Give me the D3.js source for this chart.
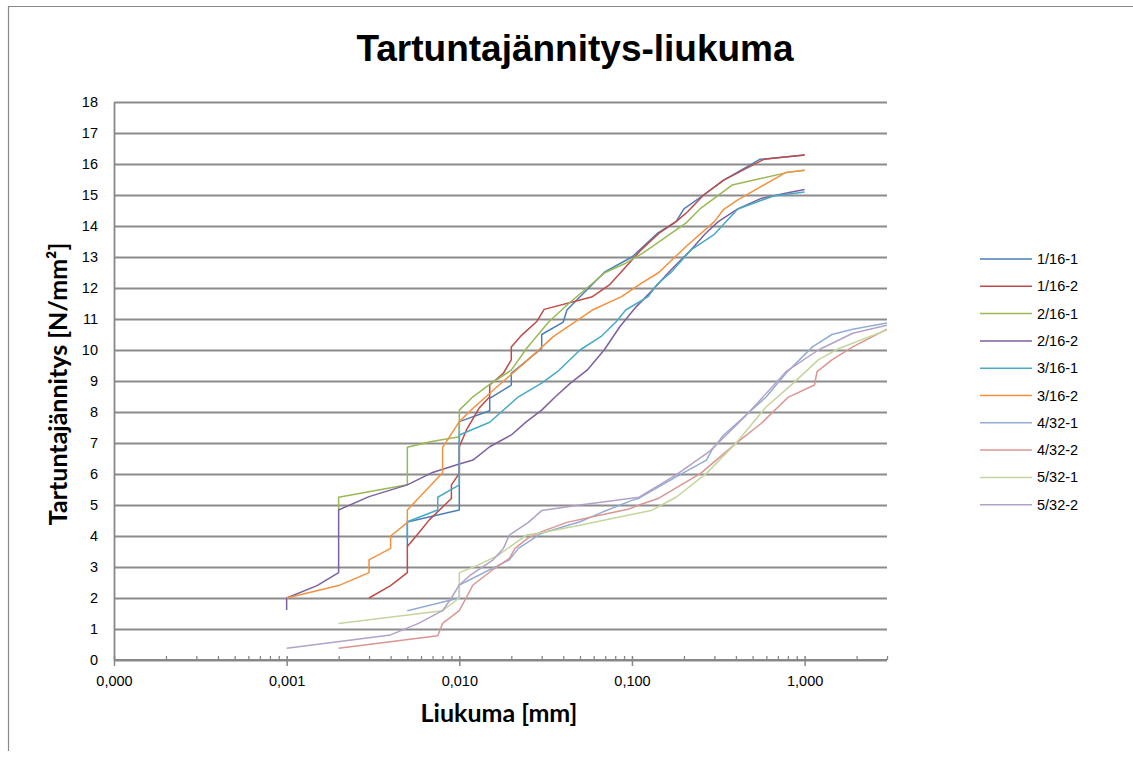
<!DOCTYPE html>
<html lang="fi">
<head>
    <meta charset="UTF-8">
    <title>Tartuntajännitys-liukuma</title>
    <script src="https://d3js.org/d3.v7.min.js"></script>
    <style>
        body { margin: 0; background: #fff; }
        .tick-label { font-family: "Liberation Sans", Arial, sans-serif; font-size: 14.5px; fill: #000; }
        .axis-title { font-family: Lato, "Open Sans", sans-serif; font-weight: bold; font-size: 25px; fill: #000; }
        .chart-title { font-family: "Liberation Sans", Arial, sans-serif; font-weight: bold; font-size: 37px; fill: #000; }
        .legend-text { font-family: "Liberation Sans", Arial, sans-serif; font-size: 14.5px; fill: #000; }
    </style>
</head>
<body>
<script>
    var w = 1133;
    var h = 758;

    // series names and colours
    var seriesNames = ["1/16-1", "1/16-2", "2/16-1", "2/16-2", "3/16-1", "3/16-2", "4/32-1", "4/32-2", "5/32-1", "5/32-2"];
    var seriesColors = ["#4A7EBB", "#BE4B48", "#98B954", "#7D60A0", "#46AAC5", "#F3913F", "#93ACD5", "#D99694", "#C3D69B", "#B3A2C7"];

    // [liukuma mm, tartuntajännitys N/mm2]
    var s1_16_1 = [[0.005,3.66],[0.005,4.45],[0.01,4.84],[0.01,7.69],[0.015,8.04],[0.015,8.44],[0.02,8.87],[0.02,9.25],[0.03,10.05],[0.03,10.5],[0.04,10.9],[0.042,11.29],[0.05,11.72],[0.07,12.53],[0.1,13.0],[0.14,13.76],[0.18,14.14],[0.2,14.55],[0.26,15.0],[0.34,15.48],[0.55,16.15],[1.0,16.29]];
    var s1_16_2 = [[0.003,2.0],[0.004,2.4],[0.005,2.82],[0.005,3.66],[0.0058,4.09],[0.0067,4.52],[0.009,5.21],[0.009,5.65],[0.01,6.02],[0.01,6.88],[0.011,7.42],[0.013,8.12],[0.015,8.49],[0.015,8.87],[0.018,9.25],[0.02,9.68],[0.02,10.1],[0.023,10.48],[0.028,10.91],[0.031,11.31],[0.059,11.72],[0.074,12.1],[0.085,12.47],[0.113,13.23],[0.143,13.76],[0.18,14.14],[0.21,14.46],[0.26,15.0],[0.34,15.48],[0.58,16.15],[1.0,16.29]];
    var s2_16_1 = [[0.002,4.84],[0.002,5.25],[0.005,5.65],[0.005,6.86],[0.0068,7.04],[0.01,7.2],[0.01,8.06],[0.012,8.49],[0.015,8.89],[0.02,9.35],[0.0245,10.05],[0.033,10.91],[0.043,11.5],[0.07,12.5],[0.092,12.8],[0.115,13.12],[0.205,14.09],[0.25,14.57],[0.38,15.32],[0.8,15.73],[1.0,15.8]];
    var s2_16_2 = [[0.001,1.61],[0.001,2.0],[0.0015,2.4],[0.002,2.82],[0.002,4.84],[0.003,5.27],[0.005,5.65],[0.007,6.05],[0.01,6.32],[0.012,6.45],[0.015,6.88],[0.02,7.26],[0.0245,7.69],[0.03,8.06],[0.036,8.49],[0.044,8.93],[0.055,9.35],[0.069,10.0],[0.085,10.75],[0.106,11.4],[0.132,11.94],[0.168,12.58],[0.22,13.23],[0.265,13.74],[0.316,14.14],[0.41,14.55],[0.56,14.89],[0.8,15.07],[1.0,15.18]];
    var s3_16_1 = [[0.005,3.9],[0.005,4.46],[0.0075,4.84],[0.0075,5.25],[0.01,5.65],[0.01,7.26],[0.015,7.67],[0.022,8.49],[0.03,8.93],[0.037,9.3],[0.05,10.0],[0.066,10.43],[0.081,10.91],[0.092,11.29],[0.124,11.72],[0.14,12.12],[0.17,12.53],[0.22,13.23],[0.3,13.73],[0.35,14.14],[0.41,14.55],[0.66,14.97],[1.0,15.1]];
    var s3_16_2 = [[0.001,2.0],[0.002,2.4],[0.003,2.82],[0.003,3.23],[0.004,3.6],[0.004,4.0],[0.005,4.43],[0.005,4.84],[0.008,6.04],[0.008,6.86],[0.01,7.69],[0.012,8.12],[0.017,8.87],[0.025,9.68],[0.035,10.43],[0.059,11.29],[0.087,11.72],[0.113,12.15],[0.143,12.5],[0.205,13.33],[0.3,14.14],[0.34,14.54],[0.41,14.84],[0.78,15.73],[1.0,15.8]];
    var s4_32_1 = [[0.005,1.59],[0.01,2.0],[0.01,2.42],[0.0195,3.23],[0.022,3.6],[0.03,4.09],[0.05,4.46],[0.068,4.78],[0.1,5.15],[0.11,5.22],[0.18,5.91],[0.27,6.45],[0.29,6.77],[0.34,7.26],[0.6,8.49],[0.78,9.25],[1.11,10.1],[1.44,10.5],[1.9,10.67],[3.0,10.87]];
    var s4_32_2 = [[0.002,0.38],[0.0075,0.78],[0.008,1.18],[0.01,1.59],[0.012,2.42],[0.0157,2.92],[0.0195,3.28],[0.021,3.6],[0.025,3.93],[0.03,4.14],[0.042,4.44],[0.066,4.68],[0.095,4.86],[0.11,5.0],[0.143,5.22],[0.25,6.02],[0.4,6.99],[0.56,7.63],[0.8,8.47],[1.14,8.87],[1.18,9.3],[1.44,9.68],[1.9,10.1],[3.0,10.67]];
    var s5_32_1 = [[0.002,1.18],[0.008,1.59],[0.01,2.0],[0.01,2.82],[0.012,2.99],[0.0165,3.35],[0.0245,4.03],[0.032,4.14],[0.05,4.35],[0.078,4.57],[0.129,4.82],[0.18,5.25],[0.27,6.02],[0.4,6.99],[0.6,8.17],[0.86,8.93],[1.2,9.68],[1.58,10.05],[3.0,10.65]];
    var s5_32_2 = [[0.001,0.38],[0.004,0.81],[0.0058,1.18],[0.008,1.59],[0.009,2.0],[0.01,2.42],[0.0116,2.74],[0.0157,3.23],[0.018,3.6],[0.0195,4.03],[0.025,4.43],[0.03,4.82],[0.05,5.0],[0.11,5.25],[0.18,5.97],[0.28,6.72],[0.46,7.9],[0.78,9.3],[1.2,10.0],[1.9,10.54],[3.0,10.8]];

    var seriesData = [s1_16_1, s1_16_2, s2_16_1, s2_16_2, s3_16_1, s3_16_2, s4_32_1, s4_32_2, s5_32_1, s5_32_2];

    // axis ticks
    var xMajorTicks = [0.0001, 0.001, 0.01, 0.1, 1];
    var xTickLabels = ["0,000", "0,001", "0,010", "0,100", "1,000"];
    var yTicks = d3.range(0, 19);

    var plotLeft = 114, plotRight = 887, plotTop = 102, plotBottom = 660;

    var svg = d3.select("body")
        .append("svg")
        .attr("width", w)
        .attr("height", h);

    // outer chart border (top and left edges visible)
    svg.append("path")
        .attr("d", "M8.5,751 V6.5 H1140")
        .attr("fill", "none")
        .attr("stroke", "#888")
        .attr("stroke-width", 1.2);

    var xScale = d3.scaleLog()
        .domain([0.0001, 3])
        .range([plotLeft, plotRight]);

    var yScale = d3.scaleLinear()
        .domain([0, 18])
        .range([plotBottom, plotTop]);

    // gridlines
    svg.append("g")
        .attr("class", "grid")
        .attr("transform", "translate(" + plotLeft + ",0)")
        .call(d3.axisLeft(yScale).tickValues(yTicks).tickSize(-(plotRight - plotLeft)).tickFormat(""))
        .call(function(g) { g.select(".domain").remove(); })
        .selectAll("line")
        .attr("stroke", "#8c8c8c")
        .attr("stroke-width", 1.8);

    // y axis labels
    var yAxisG = svg.append("g")
        .attr("transform", "translate(" + plotLeft + ",0)")
        .call(d3.axisLeft(yScale).tickValues(yTicks).tickSize(0).tickPadding(16));
    yAxisG.select(".domain").attr("stroke", "#888").attr("stroke-width", 1.8);
    yAxisG.selectAll("text").attr("class", "tick-label").attr("font-family", null).attr("font-size", null);

    // x axis minor ticks
    var minorTicks = [];
    xMajorTicks.forEach(function(d) {
        for (var k = 2; k <= 9; k++) {
            if (d * k <= 3) minorTicks.push(d * k);
        }
    });
    var xMinorG = svg.append("g")
        .attr("transform", "translate(0," + plotBottom + ")")
        .call(d3.axisTop(xScale).tickValues(minorTicks).tickSize(4).tickFormat(""));
    xMinorG.select(".domain").remove();
    xMinorG.selectAll("line").attr("stroke", "#888").attr("stroke-width", 1.3);

    // x axis major ticks + labels
    var xAxisG = svg.append("g")
        .attr("transform", "translate(0," + plotBottom + ")")
        .call(d3.axisBottom(xScale)
            .tickValues(xMajorTicks)
            .tickSize(6)
            .tickPadding(10)
            .tickFormat(function(d, i) { return xTickLabels[i]; }));
    xAxisG.select(".domain").attr("d", "M" + plotLeft + ",0H" + plotRight).attr("stroke", "#888").attr("stroke-width", 2);
    xAxisG.selectAll(".tick line").attr("y1", -4).attr("stroke", "#888").attr("stroke-width", 1.5);
    xAxisG.selectAll("text").attr("class", "tick-label").attr("font-family", null).attr("font-size", null);

    // clip to plot area
    svg.append("clipPath")
        .attr("id", "plot-clip")
        .append("rect")
        .attr("x", plotLeft)
        .attr("y", plotTop - 5)
        .attr("width", plotRight - plotLeft)
        .attr("height", plotBottom - plotTop + 5);

    var line = d3.line()
        .x(function(d) { return xScale(d[0]); })
        .y(function(d) { return yScale(d[1]); });

    svg.append("g")
        .attr("clip-path", "url(#plot-clip)")
        .selectAll("path")
        .data(seriesData)
        .enter()
        .append("path")
        .attr("d", line)
        .attr("fill", "none")
        .attr("stroke", function(d, i) { return seriesColors[i]; })
        .attr("stroke-width", 1.5)
        .attr("stroke-linejoin", "round");

    // title
    svg.append("text")
        .attr("class", "chart-title")
        .attr("x", 575)
        .attr("y", 61)
        .attr("text-anchor", "middle")
        .text("Tartuntajännitys-liukuma");

    // axis titles
    svg.append("text")
        .attr("class", "axis-title")
        .attr("x", 499)
        .attr("y", 722)
        .attr("text-anchor", "middle")
        .text("Liukuma [mm]");

    svg.append("text")
        .attr("class", "axis-title")
        .attr("transform", "translate(67,384) rotate(-90)")
        .attr("text-anchor", "middle")
        .text("Tartuntajännitys [N/mm²]");

    // legend
    var legend = svg.append("g")
        .attr("transform", "translate(980,259)");

    var items = legend.selectAll("g")
        .data(seriesNames)
        .enter()
        .append("g")
        .attr("transform", function(d, i) { return "translate(0," + (i * 27.3) + ")"; });

    items.append("line")
        .attr("x1", 0)
        .attr("x2", 52)
        .attr("stroke", function(d, i) { return seriesColors[i]; })
        .attr("stroke-width", 1.5);

    items.append("text")
        .attr("class", "legend-text")
        .attr("x", 57)
        .attr("y", 5)
        .text(function(d) { return d; });
</script>
</body>
</html>
